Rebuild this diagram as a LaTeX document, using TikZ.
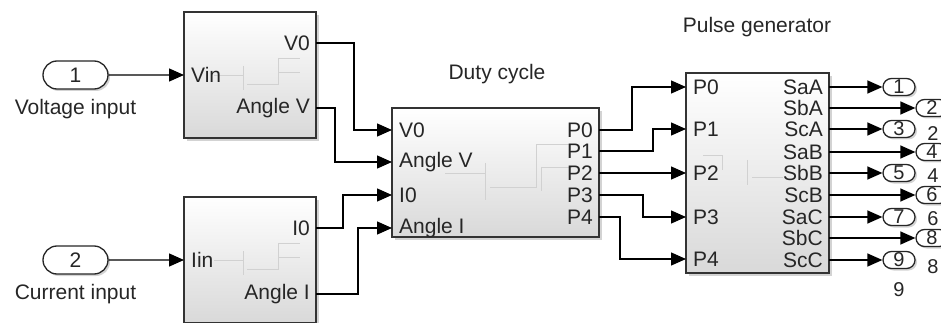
\documentclass[tikz,border=0pt]{standalone}
\usepackage{fontspec}
\setmainfont{Liberation Sans}
\usetikzlibrary{arrows.meta, positioning, shapes.misc, shadows}

\tikzstyle{sig} = [line width=1.3pt, -{Triangle[length=15pt,width=13pt]}]
\tikzstyle{blk} = [draw=black!80, line width=1.3pt, top color=white, bottom color=black!15,
    drop shadow={shadow xshift=3pt, shadow yshift=-3pt, opacity=0.35}]
\tikzstyle{port} = [rounded rectangle, draw=black!85, line width=1.3pt, fill=white, inner sep=0pt,
    drop shadow={shadow xshift=2pt, shadow yshift=-2pt, opacity=0.35}]
\tikzstyle{inport} = [port, minimum width=65pt, minimum height=28pt]
\tikzstyle{outport} = [port, minimum width=32pt, minimum height=17pt, font=\fontsize{20}{20}\selectfont]
\tikzstyle{inl} = [anchor=west, inner xsep=7pt, inner ysep=0pt]
\tikzstyle{outl} = [anchor=east, inner xsep=6pt, inner ysep=0pt]
\tikzstyle{numl} = [inner sep=0pt, font=\fontsize{20}{20}\selectfont]
\tikzstyle{icon} = [black!18, line width=0.6pt]

\begin{document}
\begin{tikzpicture}[x=1pt, y=-1pt, font=\fontsize{21}{24}\selectfont, text=black!85]
    \useasboundingbox (0,0) rectangle (941,323);

    % Bloques
    \node[blk, minimum width=132pt, minimum height=126pt] (vblk) at (250,75) {};
    \node[blk, minimum width=132pt, minimum height=126pt] (iblk) at (250,260) {};
    \node[blk, minimum width=207pt, minimum height=129pt] (duty) at (495.5,172.5) {};
    \node[blk, minimum width=143pt, minimum height=200pt] (pulse) at (757.5,173) {};
    \node (dtitle) at (497,74) {Duty cycle};
    \node (ptitle) at (757,27) {Pulse generator};

    % Iconos internos
    \draw[icon] (214,75) -- (243,75) (243,66) -- (243,90) (247,84) -- (278,84) -- (278,58) -- (300,58)
        (278,72) -- (300,72);
    \draw[icon] (214,260) -- (243,260) (243,251) -- (243,275) (247,269) -- (278,269) -- (278,243) -- (300,243)
        (278,257) -- (300,257);
    \draw[icon] (445,173) -- (485,173) (485,163) -- (485,200) (490,187) -- (536,187) -- (536,144) -- (572,144)
        (541,167) -- (572,167) (541,167) -- (541,191);
    \draw[icon] (703,155) -- (722,155) -- (722,170) (747,160) -- (747,185) (752,177) -- (783,177);

    % Entradas
    \node[inport] (in1) at (75.5,75) {1};
    \node[below=6pt of in1] (lin1) {Voltage input};
    \node[inport] (in2) at (75.5,260) {2};
    \node[below=6pt of in2] (lin2) {Current input};

    % Puertos de los subsistemas
    \node[inl] (vin) at (184,75) {Vin};
    \node[outl] (v0) at (316,43) {V0};
    \node[outl] (angv) at (316,108) {Angle V};
    \node[inl] (iin) at (184,260) {Iin};
    \node[outl] (i0) at (316,228) {I0};
    \node[outl] (angi) at (316,294) {Angle I};

    \node[inl] (dv0) at (392,130) {V0};
    \node[inl] (dangv) at (392,162) {Angle V};
    \node[inl] (di0) at (392,195) {I0};
    \node[inl] (dangi) at (392,228) {Angle I};
    \foreach \n/\y in {0/130, 1/151, 2/173, 3/195, 4/217}
        \node[outl] (p\n) at (599,\y) {P\n};

    \foreach \n/\y in {0/87, 1/129, 2/173, 3/217, 4/259}
        \node[inl] (q\n) at (686,\y) {P\n};
    \foreach \n/\t/\y in {1/SaA/87, 2/SbA/108, 3/ScA/129, 4/SaB/152, 5/SbB/173,
                          6/ScB/195, 7/SaC/217, 8/SbC/238, 9/ScC/260}
        \node[outl] (s\n) at (829,\y) {\t};

    % Nombres de las salidas
    \node[numl] (n2) at (933,134) {2};
    \node[numl] (n4) at (933,176) {4};
    \node[numl] (n6) at (933,219) {6};
    \node[numl] (n8) at (933,267) {8};
    \node[numl] (n9) at (899,290) {9};

    % Salidas
    \foreach \n/\y in {1/87, 3/129, 5/173, 7/217, 9/260}
        \node[outport] (o\n) at (899,\y) {\n};
    \foreach \n/\y in {2/108, 4/152, 6/195, 8/238}
        \node[outport] (o\n) at (932,\y) {\n};

    % Conexiones
    \draw[sig] (in1) -- (vin.west);
    \draw[sig] (in2) -- (iin.west);
    \draw[sig] (v0.east) -- ++(38,0) |- (dv0.west);
    \draw[sig] (angv.east) -- ++(19,0) |- (dangv.west);
    \draw[sig] (i0.east) -- ++(27,0) |- (di0.west);
    \draw[sig] (angi.east) -- ++(42,0) |- (dangi.west);

    \draw[sig] (p0.east) -- ++(33,0) |- (q0.west);
    \draw[sig] (p1.east) -- ++(54,0) |- (q1.west);
    \draw[sig] (p2.east) -- (q2.west);
    \draw[sig] (p3.east) -- ++(44,0) |- (q3.west);
    \draw[sig] (p4.east) -- ++(21,0) |- (q4.west);

    \foreach \n in {1,...,9}
        \draw[sig] (s\n.east) -- (o\n.west);
\end{tikzpicture}
\end{document}
